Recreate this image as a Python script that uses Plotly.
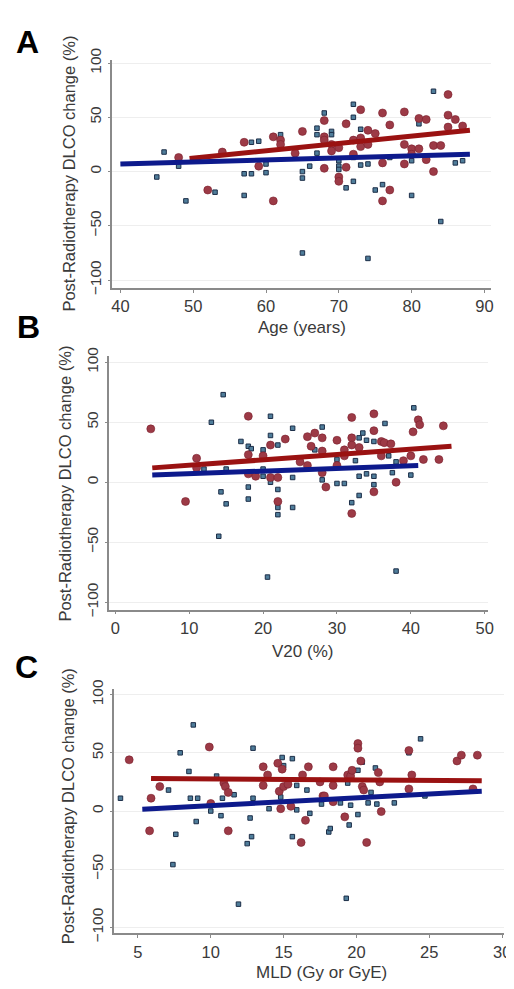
import plotly.graph_objects as go

# ---------------- data ----------------
# Panel A: Age (years)
age_red = [48,52,54,57,59,61,61,62,62,64,65,68,68,68,68,69,69,70,70,70,71,71,72,72,73,73,73,74,74,75,76,76,76,77,77,79,79,79,80,80,81,81,82,82,83,83,84,85,85,85,86,87]
age_red_val = [13,-17,18,27,5,32,-27,29,25,17,37,47,32,3,29,25,19,22,-5,-9,44,4,29,16,57,23,31,38,25,35,54,8,-27,43,-17,55,25,7,21,16,49,21,48,11,24,0,24,71,52,41,48,42]
age_blue = [45,46,48,49,53,57,57,58,58,59,60,60,62,65,65,65,66,67,67,67,68,69,69,70,70,70,71,72,72,72,72,73,73,74,74,75,76,77,80,80,81,82,83,84,86,87]
age_blue_val = [-5,18,5,-27,-19,-2,-22,27,-2,28,7,-1,34,0,-6,-75,5,40,34,17,54,37,34,10,5,2,-15,62,50,-9,13,39,6,7,-80,-17,-12,13,-22,10,44,13,74,-46,8,10]
age_fit_red_x, age_fit_red_y = [49.5, 88], [12, 38]
age_fit_blue_x, age_fit_blue_y = [40, 88], [7, 16]

# Panel B: V20 (%)
v20_red = [4.8,9.5,11,11,18,18,18,19,20,21,21,22,22,23,25,26,26,26.5,27,28,28,28,28.5,30,30,31,31,32,32,32,32,33,35,35,35,36,36,36.4,37.3,38,39,40,40.3,41,41.2,41.7,43.8,44.4]
v20_red_val = [44.5,-16,20,12,55,23,7,5,22,31,4,4,-16,36,17,38,14,30,41,37,26,8,-4,35,14,27,22,54,37,31,-26,29,57,43,-8,34,22,33,32,0,18,22,42,52,48,19,19,47]
v20_blue = [13,12,14.6,14,14.3,15,15,17,18,18,18,18.4,20,20,20,21,21,21,20.6,22,22,22,22,24,24,24,28,28,27,30,30,31,32,32.5,33,33,33,33.5,34,34,35,35,35,36.5,37,37.5,38,38,40,40.4]
v20_blue_val = [50,11,73,-45,-8,-18,11,34,30,-4,-14,28,27,11,5,55,39,0,-79,31,-6,-21,-27,45,4,-21,46,2,27,19,-1,-1,-17,18,37,5,-11,41,35,7,34,5,-2,49,22,8,-74,17,6,62]
v20_fit_red_x, v20_fit_red_y = [5, 45.5], [12, 30]
v20_fit_blue_x, v20_fit_blue_y = [5, 41], [6, 14]

# Panel C: MLD (Gy or GyE)
mld_red = [4.4,5.9,5.8,6.5,9.9,10,10.9,11,11.2,11.2,13.6,13.6,13.9,14.6,14.7,14.8,14.9,15,15.3,15.5,16.2,16.3,16.5,16.7,17.5,17.7,17.8,18.4,18.4,18.4,19.2,19.4,19.6,19.7,20.1,20.1,20.3,20.4,20.5,20.7,21.5,21.6,21.7,23.6,23.6,23.8,26.9,27.2,28,28.3]
mld_red_val = [44,11,-17,21,55,6.5,24,21,16,-17,38,22,31,41,17,2,36,21,23,4,-27,31,-8,38,25,13,13,38,22,8,-5,31,30,35,58,54,43,21,18,-27,33,25,-0.5,52,19,31,43,48,19,48]
mld_blue = [3.8,7.1,7.4,7.6,7.9,8.5,8.6,8.8,9,9.1,10,10.4,10.7,10.8,11.6,11.9,12.5,12.7,12.8,12.9,12.9,14,14.8,14.9,15,15.6,15.6,15.9,15.9,16.6,16.8,17.6,18.1,18.2,18.9,19.3,19.4,19.5,19.6,20.1,20.1,20.4,21,20.8,21.3,21.4,22.6,23.6,24.4,24.7]
mld_blue_val = [11,18,-46,-20,50,34,11,74,-9,11,0,30,-4,11,14,-80,-28,-6,-22,11,54,2,12,46,39,45,-22,22,1,18,-2,6,-18,-15,7,-75,24,-12,5,35,-3,42,16,7,37,6,7,50,62,13]
mld_fit_red_x, mld_fit_red_y = [5.9, 28.6], [28, 26]
mld_fit_blue_x, mld_fit_blue_y = [5.3, 28.6], [1.5, 17]

y_ticks = [-100, -50, 0, 50, 100]
y_title = "Post-Radiotherapy DLCO change (%)"

# ---------------- figure ----------------
W, H = 514, 989
fig = go.Figure()

RED_FILL = "#9c3a46"
RED_EDGE = "#7a1f2c"
BLUE_FILL = "#4f7d9a"
BLUE_EDGE = "#1c2e48"
RED_LINE = "#9a1212"
BLUE_LINE = "#0d1a8c"
FONT = "Arial, Liberation Sans"
TXT = "#3a3a3a"

panels = [
    dict(ax="", bx=age_blue, by=age_blue_val, rx=age_red, ry=age_red_val,
         frx=age_fit_red_x, fry=age_fit_red_y, fbx=age_fit_blue_x, fby=age_fit_blue_y,
         px=(105, 490), py=(40, 273), xr=(38.9, 90.95), yr=(-107.2, 102.7),
         xt=[40, 50, 60, 70, 80, 90], xtitle="Age (years)", xtpos=(298, 313),
         ytpos=(60, 156), letter="A", lpos=(19, 21)),
    dict(ax="2", bx=v20_blue, by=v20_blue_val, rx=v20_red, ry=v20_red_val,
         frx=v20_fit_red_x, fry=v20_fit_red_y, fbx=v20_fit_blue_x, fby=v20_fit_blue_y,
         px=(102, 487), py=(343, 602), xr=(-0.8, 50.5), yr=(-106.1, 104.9),
         xt=[0, 10, 20, 30, 40, 50], xtitle="V20 (%)", xtpos=(298, 645),
         ytpos=(57, 473), letter="B", lpos=(20, 313)),
    dict(ax="3", bx=mld_blue, by=mld_blue_val, rx=mld_red, ry=mld_red_val,
         frx=mld_fit_red_x, fry=mld_fit_red_y, fbx=mld_fit_blue_x, fby=mld_fit_blue_y,
         px=(107, 503), py=(683, 933), xr=(3.38, 30.14), yr=(-105, 105),
         xt=[5, 10, 15, 20, 25, 30], xtitle="MLD (Gy or GyE)", xtpos=(317, 973),
         ytpos=(60, 803), letter="C", lpos=(18, 661)),
]

annotations = []
for p in panels:
    xa, ya = "x" + p["ax"], "y" + p["ax"]
    fig.add_trace(go.Scatter(x=p["bx"], y=p["by"], mode="markers", xaxis=xa, yaxis=ya,
                             marker=dict(symbol="square", size=4.5, color=BLUE_FILL,
                                         line=dict(color=BLUE_EDGE, width=1)),
                             showlegend=False, hoverinfo="x+y"))
    fig.add_trace(go.Scatter(x=p["rx"], y=p["ry"], mode="markers", xaxis=xa, yaxis=ya,
                             marker=dict(symbol="circle", size=8, color=RED_FILL,
                                         line=dict(color=RED_EDGE, width=0.6)),
                             showlegend=False, hoverinfo="x+y"))
    fig.add_trace(go.Scatter(x=p["frx"], y=p["fry"], mode="lines", xaxis=xa, yaxis=ya,
                             line=dict(color=RED_LINE, width=5), showlegend=False))
    fig.add_trace(go.Scatter(x=p["fbx"], y=p["fby"], mode="lines", xaxis=xa, yaxis=ya,
                             line=dict(color=BLUE_LINE, width=5), showlegend=False))

    xdom = [p["px"][0] / W, p["px"][1] / W]
    ydom = [1 - p["py"][1] / H, 1 - p["py"][0] / H]
    xkey = "xaxis" + p["ax"]
    ykey = "yaxis" + p["ax"]
    fig.update_layout(**{
        xkey: dict(domain=xdom, range=list(p["xr"]), anchor=ya, tickvals=p["xt"],
                   showgrid=False, zeroline=False, showline=True, linecolor="#8a8a8a",
                   linewidth=1.5, ticks="outside", ticklen=3, tickcolor="#8a8a8a",
                   tickfont=dict(family=FONT, size=16.5, color=TXT)),
        ykey: dict(domain=ydom, range=list(p["yr"]), anchor=xa, tickvals=y_ticks,
                   showgrid=True, gridcolor="#eeeeee", gridwidth=1, zeroline=False,
                   showline=True, linecolor="#8a8a8a", linewidth=1.5, ticks="outside",
                   ticklen=3, tickcolor="#8a8a8a", tickangle=-90,
                   tickfont=dict(family=FONT, size=15.5, color=TXT)),
    })
    annotations.append(dict(text=p["xtitle"], x=p["xtpos"][0] / W, y=1 - p["xtpos"][1] / H,
                            xref="paper", yref="paper", showarrow=False,
                            xanchor="center", yanchor="middle",
                            font=dict(family=FONT, size=17, color=TXT)))
    annotations.append(dict(text=y_title, x=p["ytpos"][0] / W, y=1 - p["ytpos"][1] / H,
                            xref="paper", yref="paper", showarrow=False, textangle=-90,
                            xanchor="center", yanchor="middle",
                            font=dict(family=FONT, size=16.5, color=TXT)))
    annotations.append(dict(text="<b>" + p["letter"] + "</b>", x=p["lpos"][0] / W,
                            y=1 - p["lpos"][1] / H, xref="paper", yref="paper",
                            showarrow=False, xanchor="center", yanchor="middle",
                            font=dict(family=FONT, size=32, color="#000000")))

fig.update_layout(width=W, height=H, margin=dict(l=0, r=0, t=0, b=0),
                  paper_bgcolor="white", plot_bgcolor="white",
                  annotations=annotations, showlegend=False)

fig.write_html("out.html")
